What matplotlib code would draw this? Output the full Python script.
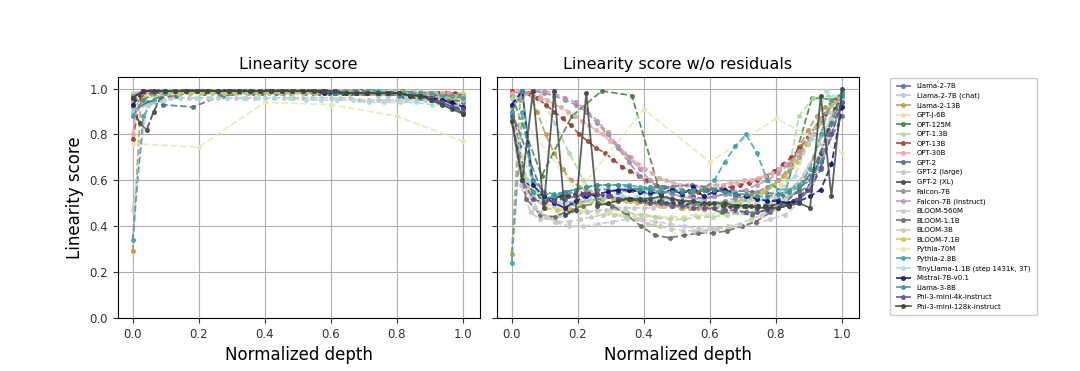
import matplotlib
matplotlib.use("Agg")
import matplotlib.pyplot as plt
import numpy as np

# ── Models, colours, line styles ──────────────────────────────────────────────

models = [
    "Llama-2-7B", "Llama-2-7B (chat)", "Llama-2-13B", "GPT-j-6B", "OPT-125M",
    "OPT-1.3B", "OPT-13B", "OPT-30B", "GPT-2", "GPT-2 (large)", "GPT-2 (XL)",
    "Falcon-7B", "Falcon-7B (instruct)", "BLOOM-560M", "BLOOM-1.1B", "BLOOM-3B",
    "BLOOM-7.1B", "Pythia-70M", "Pythia-2.8B", "TinyLlama-1.1B (step 1431k, 3T)",
    "Mistral-7B-v0.1", "Llama-3-8B", "Phi-3-mini-4k-instruct",
    "Phi-3-mini-128k-instruct",
]

colors = [
    "#4f6f9a", "#b4c4d4", "#b89a48", "#e4e0a8", "#3f7f3f",
    "#b0d8a0", "#9c4030", "#e8a8a8", "#5a6890", "#c4c4c4", "#404040",
    "#9a8a98", "#b894b8", "#cdc4dc", "#686868", "#c4ccb8",
    "#c8c850", "#e8e8b0", "#40a4a8", "#a8dce4",
    "#101080", "#3c9494", "#6a4c9c",
    "#3c4a3c",
]

styles = ["--"] * len(models)
styles[models.index("Phi-3-mini-128k-instruct")] = "-"

# ── Linearity score per layer (left panel) ────────────────────────────────────

lin_llama2_7b = [0.94, 0.99, 0.99, 0.99, 0.99, 0.99, 0.99, 0.99, 0.99, 0.99, 0.99, 0.99, 0.99, 0.99, 0.99, 0.99,
                 0.99, 0.99, 0.99, 0.98, 0.98, 0.98, 0.98, 0.98, 0.98, 0.98, 0.97, 0.97, 0.96, 0.95, 0.94, 0.92]
lin_llama2_7b_chat = [0.93, 0.98, 0.99, 0.99, 0.99, 0.99, 0.99, 0.99, 0.99, 0.99, 0.99, 0.99, 0.99, 0.99, 0.99, 0.98,
                      0.98, 0.98, 0.98, 0.98, 0.98, 0.98, 0.98, 0.97, 0.97, 0.97, 0.97, 0.96, 0.96, 0.95, 0.94, 0.93]
lin_llama2_13b = [0.29, 0.96, 0.98, 0.99, 0.99, 0.99, 0.99, 0.99, 0.99, 0.99, 0.99, 0.99, 0.99, 0.99, 0.99, 0.99,
                  0.99, 0.99, 0.99, 0.99, 0.99, 0.99, 0.99, 0.98, 0.98, 0.98, 0.98, 0.98, 0.98, 0.98, 0.98, 0.98,
                  0.97, 0.97, 0.97, 0.97, 0.96, 0.96, 0.95, 0.95]
lin_gptj_6b = [0.97, 0.98, 0.99, 0.99, 0.99, 0.99, 0.99, 0.99, 0.99, 0.99, 0.99, 0.99, 0.99, 0.99,
               0.99, 0.99, 0.99, 0.99, 0.99, 0.99, 0.98, 0.98, 0.98, 0.98, 0.98, 0.97, 0.97, 0.97]
lin_opt_125m = [0.97, 0.99, 0.99, 0.99, 0.99, 0.99, 0.99, 0.99, 0.99, 0.99, 0.98, 0.97]
lin_opt_1_3b = [0.98, 0.99, 0.99, 0.99, 0.99, 0.99, 0.99, 0.99, 0.99, 0.99, 0.99, 0.99,
                0.99, 0.99, 0.99, 0.99, 0.99, 0.99, 0.99, 0.99, 0.99, 0.98, 0.98, 0.98]
lin_opt_13b = [0.78, 0.97, 0.99, 0.99, 0.99, 0.99, 0.99, 0.99, 0.99, 0.99, 0.99, 0.99, 0.99, 0.99, 0.99, 0.99,
               0.99, 0.99, 0.99, 0.99, 0.99, 0.99, 0.99, 0.99, 0.99, 0.99, 0.99, 0.99, 0.99, 0.98, 0.98, 0.98,
               0.98, 0.98, 0.98, 0.98, 0.98, 0.98, 0.98, 0.97]
lin_opt_30b = [0.80, 0.98, 0.99, 0.99, 0.99, 0.99, 0.99, 0.99, 0.99, 0.99, 0.99, 0.99, 0.99, 0.99, 0.99, 0.99,
               0.99, 0.99, 0.99, 0.99, 0.99, 0.99, 0.99, 0.99, 0.99, 0.99, 0.99, 0.99, 0.99, 0.99, 0.99, 0.99,
               0.99, 0.99, 0.99, 0.98, 0.98, 0.98, 0.98, 0.98, 0.98, 0.98, 0.98, 0.98, 0.98, 0.98, 0.97, 0.97]
lin_gpt2 = [0.95, 0.93, 0.92, 0.97, 0.98, 0.98, 0.98, 0.98, 0.98, 0.97, 0.95, 0.90]
lin_gpt2_large = [0.90, 0.93, 0.94, 0.95, 0.96, 0.96, 0.96, 0.96, 0.96, 0.96, 0.96, 0.96,
                  0.96, 0.96, 0.96, 0.96, 0.96, 0.96, 0.96, 0.96, 0.96, 0.96, 0.96, 0.96,
                  0.95, 0.95, 0.95, 0.95, 0.95, 0.95, 0.95, 0.95, 0.95, 0.94, 0.94, 0.93]
lin_gpt2_xl = [0.92, 0.85, 0.82, 0.90, 0.96, 0.98, 0.99, 0.99, 0.99, 0.99, 0.99, 0.99, 0.99, 0.99, 0.99, 0.99,
               0.99, 0.99, 0.99, 0.99, 0.99, 0.99, 0.99, 0.99, 0.99, 0.99, 0.99, 0.99, 0.98, 0.98, 0.98, 0.98,
               0.98, 0.98, 0.98, 0.98, 0.98, 0.98, 0.98, 0.98, 0.97, 0.97, 0.97, 0.96, 0.95, 0.94, 0.92, 0.89]
lin_falcon_7b = [0.97, 0.99, 0.99, 0.99, 0.99, 0.99, 0.99, 0.99, 0.99, 0.99, 0.99, 0.99, 0.99, 0.99, 0.99, 0.99,
                 0.99, 0.99, 0.99, 0.99, 0.99, 0.99, 0.98, 0.98, 0.98, 0.98, 0.98, 0.98, 0.97, 0.97, 0.97, 0.96]
lin_falcon_7b_inst = [0.96, 0.99, 0.99, 0.99, 0.99, 0.99, 0.99, 0.99, 0.99, 0.99, 0.99, 0.99, 0.99, 0.99, 0.99, 0.99,
                      0.99, 0.99, 0.99, 0.99, 0.98, 0.98, 0.98, 0.98, 0.98, 0.98, 0.98, 0.97, 0.97, 0.97, 0.96, 0.96]
lin_bloom_560m = [0.47, 0.93, 0.97, 0.98, 0.98, 0.98, 0.98, 0.98, 0.98, 0.98, 0.98, 0.98,
                  0.98, 0.98, 0.98, 0.98, 0.98, 0.98, 0.98, 0.97, 0.97, 0.97, 0.96, 0.95]
lin_bloom_1_1b = [0.90, 0.94, 0.96, 0.97, 0.98, 0.98, 0.98, 0.98, 0.98, 0.98, 0.98, 0.98,
                  0.98, 0.98, 0.98, 0.98, 0.98, 0.98, 0.98, 0.98, 0.97, 0.97, 0.96, 0.94]
lin_bloom_3b = [0.92, 0.95, 0.97, 0.98, 0.98, 0.98, 0.98, 0.98, 0.98, 0.98, 0.98, 0.98, 0.98, 0.98, 0.98,
                0.98, 0.98, 0.98, 0.98, 0.98, 0.98, 0.98, 0.98, 0.98, 0.97, 0.97, 0.97, 0.96, 0.96, 0.95]
lin_bloom_7b = [0.94, 0.96, 0.97, 0.98, 0.98, 0.98, 0.98, 0.98, 0.98, 0.98, 0.98, 0.98, 0.98, 0.98, 0.98,
                0.98, 0.98, 0.98, 0.98, 0.98, 0.98, 0.98, 0.98, 0.98, 0.98, 0.97, 0.97, 0.97, 0.96, 0.96]
lin_pythia_70m = [0.76, 0.745, 0.94, 0.93, 0.88, 0.77]
lin_pythia_2_8b = [0.34, 0.88, 0.95, 0.98, 0.99, 0.99, 0.99, 0.99, 0.99, 0.99, 0.99, 0.99, 0.99, 0.99, 0.99, 0.99,
                   0.99, 0.99, 0.99, 0.99, 0.99, 0.99, 0.99, 0.99, 0.98, 0.98, 0.98, 0.98, 0.98, 0.97, 0.97, 0.96]
lin_tinyllama = [0.90, 0.93, 0.95, 0.96, 0.96, 0.96, 0.96, 0.96, 0.96, 0.96, 0.96,
                 0.95, 0.95, 0.95, 0.95, 0.94, 0.94, 0.94, 0.94, 0.93, 0.93, 0.92]
lin_mistral_7b = [0.93, 0.99, 0.99, 0.99, 0.99, 0.99, 0.99, 0.99, 0.99, 0.99, 0.99, 0.99, 0.99, 0.99, 0.99, 0.99,
                  0.99, 0.99, 0.98, 0.98, 0.98, 0.98, 0.98, 0.98, 0.98, 0.98, 0.97, 0.97, 0.96, 0.95, 0.94, 0.92]
lin_llama3_8b = [0.88, 0.95, 0.98, 0.99, 0.99, 0.99, 0.99, 0.99, 0.99, 0.99, 0.99, 0.99, 0.99, 0.99, 0.99, 0.99,
                 0.99, 0.99, 0.99, 0.98, 0.98, 0.98, 0.98, 0.98, 0.98, 0.97, 0.97, 0.96, 0.95, 0.94, 0.92, 0.90]
lin_phi3_4k = [0.96, 0.99, 0.99, 0.99, 0.99, 0.99, 0.99, 0.99, 0.99, 0.99, 0.99, 0.99, 0.99, 0.99, 0.99, 0.99,
               0.99, 0.99, 0.99, 0.99, 0.98, 0.98, 0.98, 0.98, 0.98, 0.98, 0.97, 0.97, 0.96, 0.94, 0.92, 0.91]
lin_phi3_128k = [0.96, 0.99, 0.99, 0.99, 0.99, 0.99, 0.99, 0.99, 0.99, 0.99, 0.99, 0.99, 0.99, 0.99, 0.99, 0.99,
                 0.99, 0.99, 0.99, 0.99, 0.98, 0.98, 0.98, 0.98, 0.98, 0.98, 0.97, 0.97, 0.95, 0.93, 0.91, 0.89]

# ── Linearity score without residual stream (right panel) ─────────────────────

nr_llama2_7b = [0.88, 0.62, 0.55, 0.53, 0.52, 0.54, 0.55, 0.55, 0.56, 0.56, 0.55, 0.56, 0.55, 0.54, 0.55, 0.54,
                0.53, 0.53, 0.52, 0.53, 0.54, 0.53, 0.52, 0.52, 0.51, 0.52, 0.53, 0.55, 0.58, 0.66, 0.80, 0.95]
nr_llama2_7b_chat = [0.86, 0.60, 0.53, 0.50, 0.49, 0.50, 0.51, 0.52, 0.52, 0.53, 0.52, 0.52, 0.51, 0.50, 0.50, 0.49,
                     0.48, 0.48, 0.47, 0.48, 0.49, 0.48, 0.48, 0.49, 0.50, 0.51, 0.53, 0.56, 0.62, 0.72, 0.86, 0.97]
nr_llama2_13b = [0.28, 0.95, 0.98, 0.90, 0.80, 0.72, 0.65, 0.60, 0.57, 0.55, 0.54, 0.53, 0.52, 0.52, 0.51, 0.51,
                 0.50, 0.50, 0.49, 0.49, 0.48, 0.48, 0.48, 0.49, 0.49, 0.50, 0.50, 0.51, 0.52, 0.53, 0.55, 0.58,
                 0.62, 0.68, 0.75, 0.82, 0.88, 0.92, 0.95, 0.98]
nr_gptj_6b = [0.92, 0.70, 0.55, 0.50, 0.48, 0.47, 0.47, 0.46, 0.46, 0.45, 0.45, 0.45, 0.44, 0.44,
              0.44, 0.45, 0.45, 0.46, 0.47, 0.48, 0.50, 0.53, 0.58, 0.66, 0.76, 0.85, 0.92, 0.97]
nr_opt_125m = [0.97, 0.62, 0.88, 0.99, 0.97, 0.52, 0.50, 0.46, 0.45, 0.50, 0.96, 0.95]
nr_opt_1_3b = [0.96, 0.98, 0.97, 0.85, 0.72, 0.60, 0.52, 0.48, 0.46, 0.45, 0.44, 0.43,
               0.43, 0.44, 0.44, 0.45, 0.46, 0.47, 0.50, 0.55, 0.88, 0.96, 0.97, 0.95]
nr_opt_13b = [0.99, 0.98, 0.98, 0.96, 0.93, 0.90, 0.87, 0.84, 0.80, 0.77, 0.74, 0.72, 0.69, 0.66, 0.64, 0.62,
              0.60, 0.58, 0.57, 0.56, 0.55, 0.55, 0.55, 0.56, 0.56, 0.57, 0.57, 0.58, 0.59, 0.60, 0.62, 0.64,
              0.67, 0.70, 0.74, 0.79, 0.84, 0.89, 0.94, 0.98]
nr_opt_30b = [0.98, 0.99, 0.98, 0.97, 0.96, 0.95, 0.93, 0.92, 0.90, 0.88, 0.86, 0.84, 0.82, 0.80, 0.77, 0.75,
              0.72, 0.70, 0.67, 0.65, 0.63, 0.61, 0.60, 0.59, 0.58, 0.58, 0.57, 0.57, 0.58, 0.58, 0.58, 0.59,
              0.59, 0.60, 0.60, 0.61, 0.62, 0.63, 0.65, 0.67, 0.69, 0.72, 0.76, 0.80, 0.85, 0.90, 0.94, 0.97]
nr_gpt2 = [0.90, 0.55, 0.50, 0.52, 0.56, 0.57, 0.58, 0.56, 0.55, 0.54, 0.62, 0.88]
nr_gpt2_large = [0.86, 0.58, 0.46, 0.43, 0.44, 0.45, 0.46, 0.46, 0.46, 0.47, 0.47, 0.48,
                 0.48, 0.48, 0.48, 0.48, 0.49, 0.49, 0.49, 0.49, 0.50, 0.50, 0.50, 0.50,
                 0.50, 0.51, 0.51, 0.52, 0.53, 0.55, 0.58, 0.62, 0.70, 0.80, 0.90, 0.97]
nr_gpt2_xl = [0.93, 0.75, 0.60, 0.55, 0.53, 0.52, 0.52, 0.53, 0.53, 0.54, 0.54, 0.54, 0.53, 0.53, 0.53, 0.52,
              0.52, 0.52, 0.51, 0.51, 0.51, 0.51, 0.50, 0.50, 0.50, 0.50, 0.50, 0.50, 0.50, 0.50, 0.49, 0.49,
              0.49, 0.49, 0.49, 0.49, 0.49, 0.49, 0.50, 0.50, 0.51, 0.53, 0.56, 0.62, 0.72, 0.82, 0.91, 0.97]
nr_falcon_7b = [0.93, 0.98, 0.99, 0.98, 0.97, 0.95, 0.93, 0.90, 0.85, 0.80, 0.74, 0.68, 0.62, 0.57, 0.54, 0.52,
                0.51, 0.50, 0.50, 0.50, 0.51, 0.52, 0.53, 0.55, 0.57, 0.60, 0.64, 0.70, 0.78, 0.86, 0.93, 0.97]
nr_falcon_7b_inst = [0.92, 0.97, 0.99, 0.99, 0.98, 0.96, 0.94, 0.91, 0.86, 0.81, 0.75, 0.70, 0.65, 0.60, 0.56, 0.54,
                     0.53, 0.52, 0.52, 0.53, 0.54, 0.55, 0.56, 0.58, 0.60, 0.63, 0.67, 0.73, 0.80, 0.87, 0.93, 0.96]
nr_bloom_560m = [0.90, 0.55, 0.46, 0.42, 0.40, 0.40, 0.41, 0.42, 0.43, 0.43, 0.42, 0.41,
                 0.40, 0.39, 0.39, 0.39, 0.40, 0.41, 0.43, 0.45, 0.50, 0.60, 0.78, 0.93]
nr_bloom_1_1b = [0.88, 0.52, 0.45, 0.44, 0.47, 0.49, 0.50, 0.49, 0.45, 0.40, 0.36, 0.35,
                 0.36, 0.37, 0.37, 0.38, 0.40, 0.42, 0.46, 0.50, 0.56, 0.65, 0.80, 0.94]
nr_bloom_3b = [0.85, 0.60, 0.48, 0.44, 0.42, 0.42, 0.43, 0.44, 0.45, 0.45, 0.44, 0.43, 0.41, 0.40, 0.39,
               0.38, 0.38, 0.38, 0.39, 0.40, 0.41, 0.43, 0.45, 0.48, 0.52, 0.58, 0.66, 0.76, 0.87, 0.95]
nr_bloom_7b = [0.86, 0.62, 0.52, 0.48, 0.47, 0.48, 0.50, 0.51, 0.52, 0.52, 0.51, 0.50, 0.50, 0.49, 0.49,
               0.48, 0.48, 0.48, 0.49, 0.50, 0.51, 0.53, 0.55, 0.58, 0.62, 0.68, 0.76, 0.85, 0.93, 0.97]
nr_pythia_70m = [0.93, 0.55, 0.91, 0.68, 0.87, 0.72]
nr_pythia_2_8b = [0.24, 0.90, 0.55, 0.52, 0.53, 0.55, 0.56, 0.57, 0.58, 0.58, 0.58, 0.58, 0.57, 0.57, 0.57, 0.57,
                  0.56, 0.55, 0.56, 0.60, 0.68, 0.75, 0.80, 0.72, 0.60, 0.56, 0.56, 0.58, 0.65, 0.80, 0.95, 0.98]
nr_tinyllama = [0.88, 0.60, 0.52, 0.50, 0.51, 0.52, 0.53, 0.53, 0.53, 0.52, 0.52,
                0.51, 0.51, 0.50, 0.50, 0.51, 0.52, 0.55, 0.62, 0.78, 0.99, 0.95]
nr_mistral_7b = [0.93, 0.99, 0.58, 0.53, 0.50, 0.48, 0.51, 0.53, 0.54, 0.55, 0.56, 0.56, 0.55, 0.55, 0.54, 0.56,
                 0.54, 0.57, 0.53, 0.55, 0.56, 0.54, 0.53, 0.52, 0.51, 0.51, 0.50, 0.51, 0.53, 0.56, 0.67, 0.92]
nr_llama3_8b = [0.90, 0.99, 0.60, 0.55, 0.54, 0.55, 0.56, 0.57, 0.58, 0.58, 0.58, 0.57, 0.56, 0.56, 0.55, 0.55,
                0.55, 0.56, 0.56, 0.56, 0.55, 0.54, 0.54, 0.53, 0.53, 0.54, 0.55, 0.57, 0.60, 0.68, 0.85, 0.97]
nr_phi3_4k = [0.88, 0.60, 0.52, 0.50, 0.51, 0.52, 0.53, 0.54, 0.54, 0.53, 0.52, 0.52, 0.51, 0.50, 0.50, 0.49,
              0.49, 0.48, 0.48, 0.48, 0.47, 0.47, 0.46, 0.46, 0.47, 0.48, 0.49, 0.52, 0.56, 0.65, 0.80, 0.94]
nr_phi3_128k = [0.86, 0.60, 0.99, 0.48, 0.99, 0.45, 0.47, 0.98, 0.49, 0.50, 0.51, 0.52, 0.52, 0.52, 0.53, 0.52,
                0.51, 0.51, 0.50, 0.50, 0.50, 0.49, 0.49, 0.48, 0.48, 0.48, 0.49, 0.50, 0.48, 0.97, 0.53, 1.00]

lin_scores = [
    lin_llama2_7b, lin_llama2_7b_chat, lin_llama2_13b, lin_gptj_6b, lin_opt_125m,
    lin_opt_1_3b, lin_opt_13b, lin_opt_30b, lin_gpt2, lin_gpt2_large, lin_gpt2_xl,
    lin_falcon_7b, lin_falcon_7b_inst, lin_bloom_560m, lin_bloom_1_1b, lin_bloom_3b,
    lin_bloom_7b, lin_pythia_70m, lin_pythia_2_8b, lin_tinyllama,
    lin_mistral_7b, lin_llama3_8b, lin_phi3_4k, lin_phi3_128k,
]
nores_scores = [
    nr_llama2_7b, nr_llama2_7b_chat, nr_llama2_13b, nr_gptj_6b, nr_opt_125m,
    nr_opt_1_3b, nr_opt_13b, nr_opt_30b, nr_gpt2, nr_gpt2_large, nr_gpt2_xl,
    nr_falcon_7b, nr_falcon_7b_inst, nr_bloom_560m, nr_bloom_1_1b, nr_bloom_3b,
    nr_bloom_7b, nr_pythia_70m, nr_pythia_2_8b, nr_tinyllama,
    nr_mistral_7b, nr_llama3_8b, nr_phi3_4k, nr_phi3_128k,
]

# ── Figure ────────────────────────────────────────────────────────────────────

fig = plt.figure(figsize=(10.8, 3.71), dpi=100)
ax1 = fig.add_axes([0.109, 0.143, 0.335, 0.649])
ax2 = fig.add_axes([0.460, 0.143, 0.335, 0.649], sharey=ax1)

for ax, data in ((ax1, lin_scores), (ax2, nores_scores)):
    for name, vals, c, ls in zip(models, data, colors, styles):
        depth = np.linspace(0, 1, len(vals))
        ax.plot(depth, vals, ls, color=c, marker="o", markersize=2.6,
                linewidth=1.3, alpha=0.85, label=name)
    ax.set_ylim(0, 1.05)
    ax.set_xlim(-0.045, 1.05)
    ax.set_xticks(np.arange(0, 1.01, 0.2))
    ax.grid(True, color="#b0b0b0", linewidth=0.8)
    ax.tick_params(labelsize=8.5, colors="#333333")
    ax.set_xlabel("Normalized depth", fontsize=12)

ax1.set_yticks(np.arange(0, 1.01, 0.2))
ax1.set_ylabel("Linearity score", fontsize=12)
plt.setp(ax2.get_yticklabels(), visible=False)
ax1.set_title("Linearity score", fontsize=11.5)
ax2.set_title("Linearity score w/o residuals", fontsize=11.5)

handles, labels = ax1.get_legend_handles_labels()
fig.legend(handles, labels, loc="upper left", bbox_to_anchor=(0.821, 0.80),
           fontsize=5.0, labelspacing=0.5, handlelength=2.2, borderpad=0.8,
           framealpha=1, edgecolor="#cccccc")

fig.savefig("out.png", dpi=100)
